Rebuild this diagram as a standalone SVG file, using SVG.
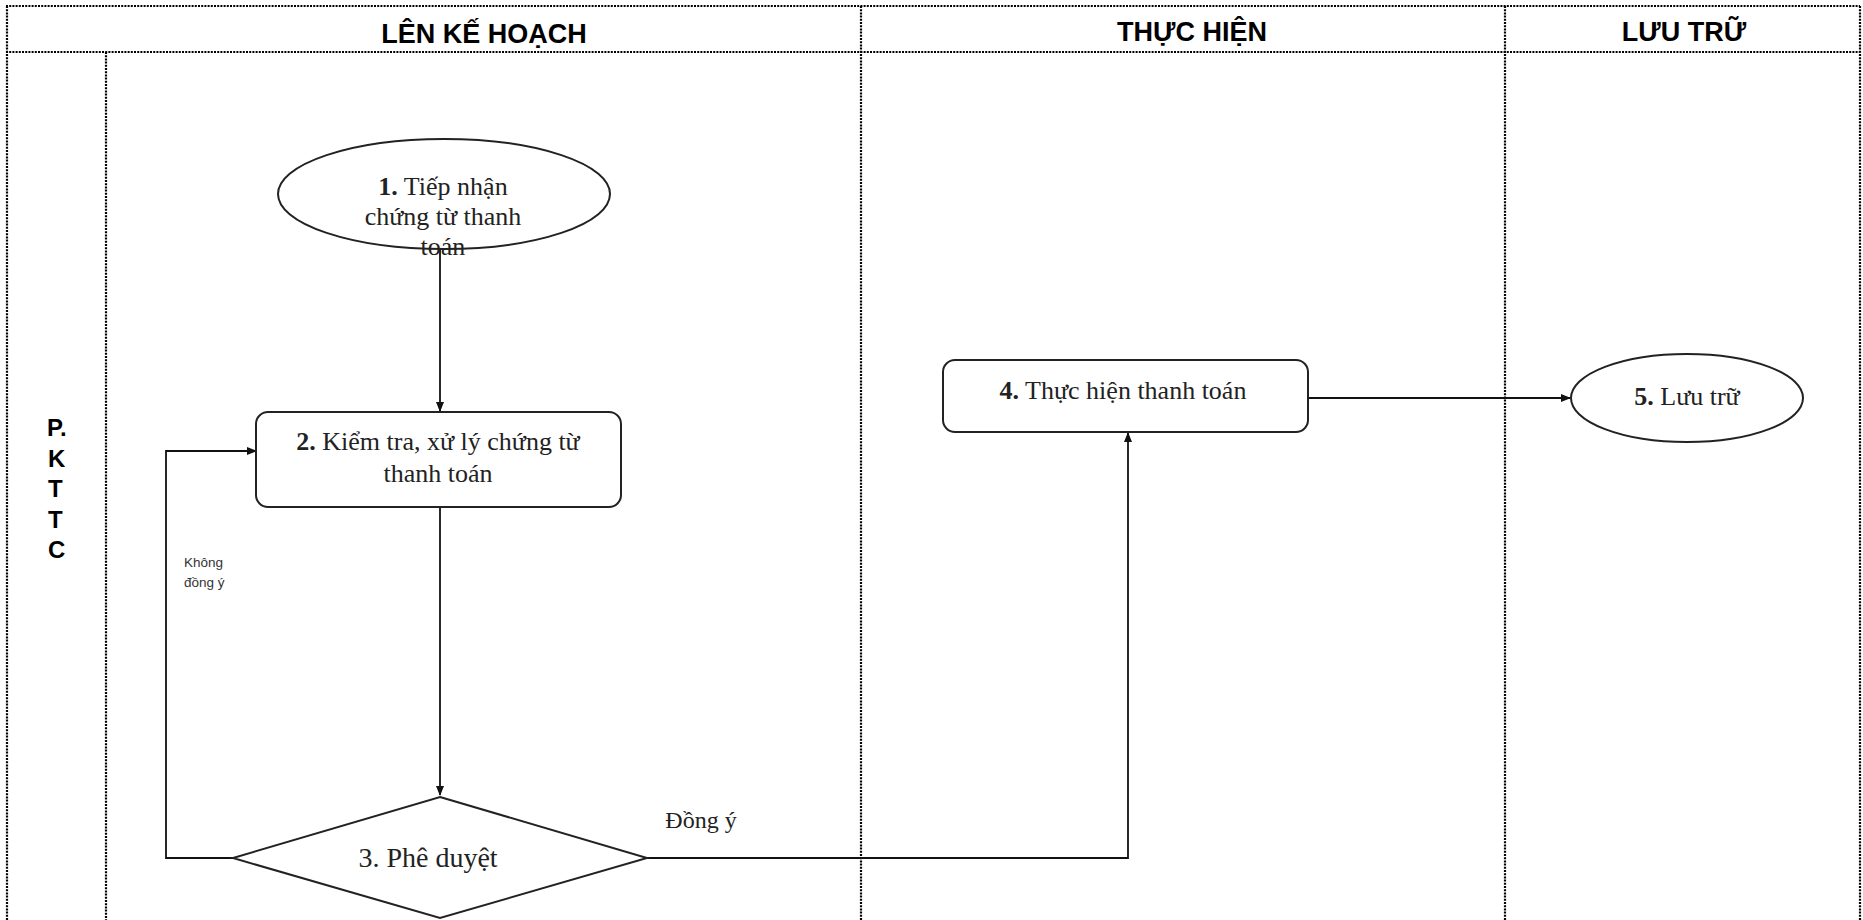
<svg xmlns="http://www.w3.org/2000/svg" width="1863" height="920" viewBox="0 0 1863 920">
<style>
.frame{stroke:#000;stroke-width:2.2;stroke-dasharray:2 1.2;fill:none}
.hdr{font-family:"Liberation Sans",Arial,sans-serif;font-weight:bold;font-size:27px;fill:#000;text-anchor:middle}
.lane{font-family:"Liberation Sans",Arial,sans-serif;font-weight:bold;font-size:24px;fill:#000}
.shape{fill:#fff;stroke:#222;stroke-width:2}
.t{font-family:"Liberation Serif","Times New Roman",serif;font-size:26px;fill:#222;text-anchor:middle}
.b{font-weight:bold}
.conn{fill:none;stroke:#111;stroke-width:1.8}
.small{font-family:"Liberation Sans",Arial,sans-serif;font-size:13.5px;fill:#333}
</style>
<defs>
<marker id="arr" markerWidth="10" markerHeight="10" refX="9" refY="5" orient="auto" markerUnits="userSpaceOnUse">
<path d="M0,1 L10,5 L0,9 Z" fill="#111"/>
</marker>
</defs>
<rect width="1863" height="920" fill="#fff"/>
<g id="frame">
<line class="frame" x1="6" y1="6" x2="1860" y2="6"/>
<line class="frame" x1="6" y1="52" x2="1860" y2="52"/>
<line class="frame" x1="7" y1="6" x2="7" y2="920"/>
<line class="frame" x1="106" y1="52" x2="106" y2="920"/>
<line class="frame" x1="861" y1="6" x2="861" y2="920"/>
<line class="frame" x1="1505" y1="6" x2="1505" y2="920"/>
<line class="frame" x1="1860" y1="6" x2="1860" y2="920"/>
<text class="hdr" x="484" y="43">LÊN KẾ HOẠCH</text>
<text class="hdr" x="1192" y="41">THỰC HIỆN</text>
<text class="hdr" x="1684" y="41">LƯU TRỮ</text>
<text class="lane" x="47" y="436">P.</text>
<text class="lane" x="48" y="467">K</text>
<text class="lane" x="48" y="497">T</text>
<text class="lane" x="48" y="528">T</text>
<text class="lane" x="48" y="558">C</text>
</g>
<g id="connectors">
<line class="conn" x1="440" y1="249" x2="440" y2="411" marker-end="url(#arr)"/>
<line class="conn" x1="440" y1="507" x2="440" y2="795" marker-end="url(#arr)"/>
<polyline class="conn" points="233,858 166,858 166,451 256,451" marker-end="url(#arr)"/>
<polyline class="conn" points="647,858 1128,858 1128,433" marker-end="url(#arr)"/>
<line class="conn" x1="1308" y1="398" x2="1570" y2="398" marker-end="url(#arr)"/>
<text class="small" x="184" y="567">Không</text>
<text class="small" x="184" y="587">đồng ý</text>
<text class="t" x="701" y="828" style="font-size:24px">Đồng ý</text>
</g>
<g id="node1">
<ellipse class="shape" cx="444" cy="194" rx="166" ry="55"/>
<text class="t" x="443" y="195"><tspan class="b">1.</tspan> Tiếp nhận</text>
<text class="t" x="443" y="225">chứng từ thanh</text>
<text class="t" x="443" y="255">toán</text>
</g>
<g id="node2">
<rect class="shape" x="256" y="412" width="365" height="95" rx="12"/>
<text class="t" x="438" y="450"><tspan class="b">2.</tspan> Kiểm tra, xử lý chứng từ</text>
<text class="t" x="438" y="482">thanh toán</text>
</g>
<g id="node3">
<polygon class="shape" points="440,797 647,858 440,918 233,858"/>
<text class="t" x="428" y="867" style="font-size:28px">3. Phê duyệt</text>
</g>
<g id="node4">
<rect class="shape" x="943" y="360" width="365" height="72" rx="12"/>
<text class="t" x="1123" y="399"><tspan class="b">4.</tspan> Thực hiện thanh toán</text>
</g>
<g id="node5">
<ellipse class="shape" cx="1687" cy="398" rx="116" ry="44"/>
<text class="t" x="1687" y="405"><tspan class="b">5.</tspan> Lưu trữ</text>
</g>
</svg>
